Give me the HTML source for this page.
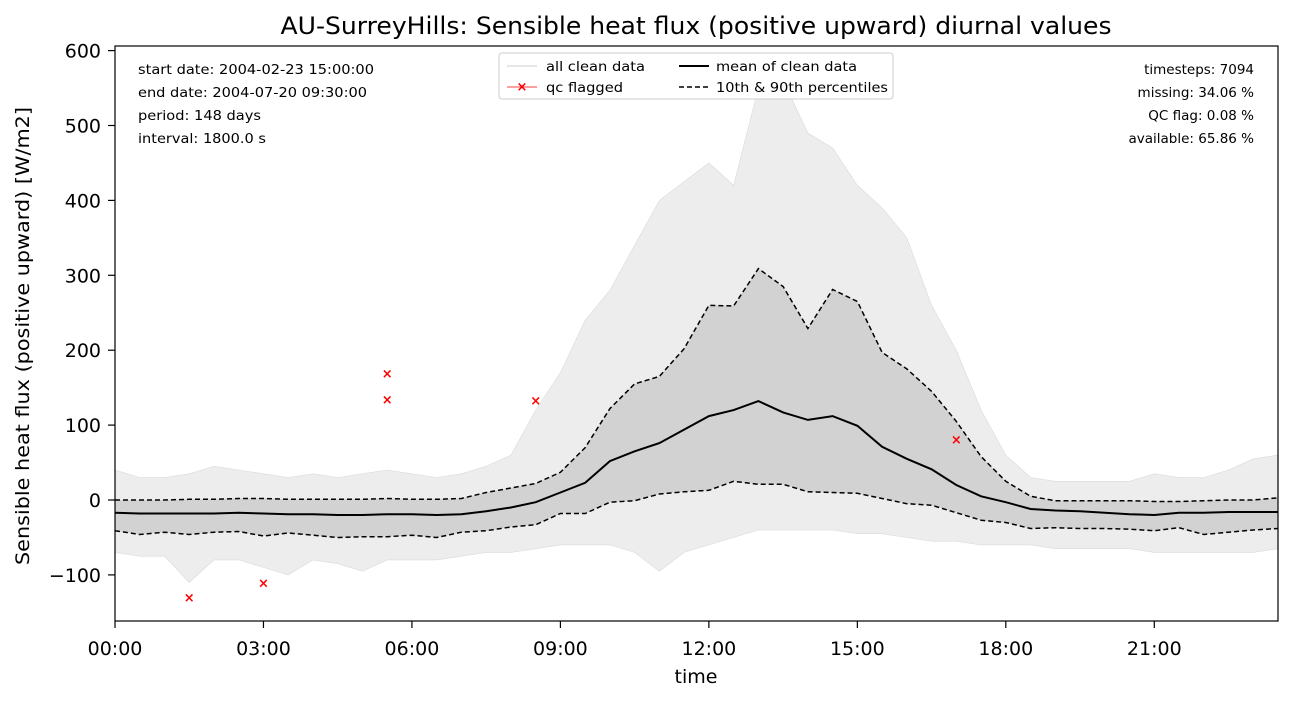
<!DOCTYPE html>
<html><head><meta charset="utf-8"><style>
body{margin:0;background:#fff;}
svg{display:block;font-family:"DejaVu Sans","Liberation Sans",sans-serif;}
</style></head><body>
<svg id="chart" width="1292" height="701">
<defs><clipPath id="clip"><rect x="115" y="46" width="1163" height="575"/></clipPath></defs>
<rect width="1292" height="701" fill="#fff"/>
<text x="696" y="34" font-size="24" text-anchor="middle" textLength="831" lengthAdjust="spacingAndGlyphs">AU-SurreyHills: Sensible heat flux (positive upward) diurnal values</text>
<g id="plot" clip-path="url(#clip)"></g>
<g id="axes"></g>
<text x="696" y="683" font-size="19" text-anchor="middle">time</text>
<text transform="translate(29,336) rotate(-90)" font-size="19" text-anchor="middle" textLength="458" lengthAdjust="spacingAndGlyphs">Sensible heat flux (positive upward) [W/m2]</text>
<g font-size="13.5">
<text x="138" y="74" textLength="236" lengthAdjust="spacingAndGlyphs">start date: 2004-02-23 15:00:00</text>
<text x="138" y="97" textLength="229" lengthAdjust="spacingAndGlyphs">end date: 2004-07-20 09:30:00</text>
<text x="138" y="120" textLength="123" lengthAdjust="spacingAndGlyphs">period: 148 days</text>
<text x="138" y="143" textLength="128" lengthAdjust="spacingAndGlyphs">interval: 1800.0 s</text>
</g>
<g font-size="13.5" text-anchor="end">
<text x="1254" y="74">timesteps: 7094</text>
<text x="1254" y="97">missing: 34.06 %</text>
<text x="1254" y="120">QC flag: 0.08 %</text>
<text x="1254" y="143">available: 65.86 %</text>
</g>
<g>
<rect x="499" y="53" width="394" height="46" rx="3" fill="#fff" fill-opacity="0.85" stroke="#ccc"/>
<line x1="507" y1="66" x2="537" y2="66" stroke="#bbb" stroke-width="0.8"/>
<text x="546" y="71" font-size="13.5" textLength="99" lengthAdjust="spacingAndGlyphs">all clean data</text>
<line x1="507" y1="87" x2="537" y2="87" stroke="red" stroke-width="0.8"/>
<text x="522" y="91" font-size="13" fill="red" font-weight="bold" text-anchor="middle">×</text>
<text x="546" y="92" font-size="13.5" textLength="77" lengthAdjust="spacingAndGlyphs">qc flagged</text>
<line x1="679" y1="66" x2="709" y2="66" stroke="#000" stroke-width="2"/>
<text x="716" y="71" font-size="13.5" textLength="141" lengthAdjust="spacingAndGlyphs">mean of clean data</text>
<line x1="679" y1="87" x2="709" y2="87" stroke="#000" stroke-width="1.5" stroke-dasharray="5,3"/>
<text x="716" y="92" font-size="13.5" textLength="172" lengthAdjust="spacingAndGlyphs">10th &amp; 90th percentiles</text>
</g>
</svg>
<script>
const meanVals=[-17,-18,-18,-18,-18,-17,-18,-19,-19,-20,-20,-19,-19,-20,-19,-15,-10,-3,10,23,52,65,76,94,112,120,132,117,107,112,99,71,55,41,20,5,-3,-12,-14,-15,-17,-19,-20,-17,-17,-16,-16,-16];
const p90Vals=[0,0,0,1,1,2,2,1,1,1,1,2,1,1,2,10,16,22,37,70,122,155,165,202,260,259,309,285,229,281,265,197,175,145,105,58,25,5,-1,-1,-1,-1,-2,-2,-1,0,0,3];
const p10Vals=[-41,-46,-43,-46,-43,-42,-48,-44,-47,-50,-49,-49,-47,-50,-43,-41,-36,-33,-18,-18,-3,-1,8,11,13,25,21,21,11,10,9,2,-5,-7,-17,-27,-30,-38,-37,-38,-38,-39,-41,-37,-46,-43,-40,-38];
const maxVals=[40,30,30,35,45,40,35,30,35,30,35,40,35,30,35,45,60,120,170,240,280,340,400,425,450,420,550,560,490,470,420,390,350,260,200,120,60,30,25,25,25,25,35,30,30,40,55,60];
const minVals=[-70,-75,-75,-110,-80,-80,-90,-100,-80,-85,-95,-80,-80,-80,-75,-70,-70,-65,-60,-60,-60,-70,-95,-70,-60,-50,-40,-40,-40,-40,-45,-45,-50,-55,-55,-60,-60,-60,-65,-65,-65,-65,-70,-70,-70,-70,-70,-65];
const qcTimes=[1.5,3,5.5,5.5,8.5,17];
const qcVals=[-130,-111,169,134,133,81];
const xTicks=["00:00","03:00","06:00","09:00","12:00","15:00","18:00","21:00"];
const yTicks=[-100,0,100,200,300,400,500,600];
const X0=115,X1=1278,Y0=46,Y1=621;
const xs=h=>X0+h*49.49;
const ys=v=>500-0.749*v;
const NS="http://www.w3.org/2000/svg";
const plot=document.getElementById('plot'),axes=document.getElementById('axes');
function mk(tag,attrs,parent){const e=document.createElementNS(NS,tag);for(const k in attrs)e.setAttribute(k,attrs[k]);parent.appendChild(e);return e;}
function pts(arr){return arr.map((v,i)=>xs(i*0.5).toFixed(1)+','+ys(v).toFixed(1)).join(' ');}
function rpts(arr){return arr.map((v,i)=>xs(i*0.5).toFixed(1)+','+ys(v).toFixed(1)).reverse().join(' ');}
const env=mk('polygon',{points:pts(maxVals)+' '+rpts(minVals),fill:'#ededed',stroke:'#dadada','stroke-width':0.6},plot);


const band=mk('polygon',{points:pts(p90Vals)+' '+rpts(p10Vals),fill:'#d2d2d2'},plot);


const l90=mk('polyline',{points:pts(p90Vals),fill:'none',stroke:'#000','stroke-width':1.5,'stroke-dasharray':'5,3'},plot);


const l10=mk('polyline',{points:pts(p10Vals),fill:'none',stroke:'#000','stroke-width':1.5,'stroke-dasharray':'5,3'},plot);


const lm=mk('polyline',{points:pts(meanVals),fill:'none',stroke:'#000','stroke-width':2},plot);


qcTimes.forEach((t,i)=>{const m=mk('text',{x:xs(t),y:ys(qcVals[i])+4.5,'font-size':13,'font-weight':'bold',fill:'red','text-anchor':'middle'},plot);m.textContent='×';

});
const fr=mk('rect',{x:X0,y:Y0,width:X1-X0,height:Y1-Y0,fill:'none',stroke:'#000','stroke-width':1.2},axes);


xTicks.forEach((s,i)=>{const x=xs(i*3);mk('line',{x1:x,y1:Y1,x2:x,y2:Y1+7,stroke:'#000','stroke-width':1.2},axes);const t=mk('text',{x:x,y:655,'font-size':19,'text-anchor':'middle'},axes);t.textContent=s;

});
yTicks.forEach(v=>{const y=ys(v);mk('line',{x1:X0-7,y1:y,x2:X0,y2:y,stroke:'#000','stroke-width':1.2},axes);const t=mk('text',{x:101,y:y+7,'font-size':19,'text-anchor':'end'},axes);t.textContent=v<0?'\u2212'+Math.abs(v):String(v);

});
</script>
</body></html>
